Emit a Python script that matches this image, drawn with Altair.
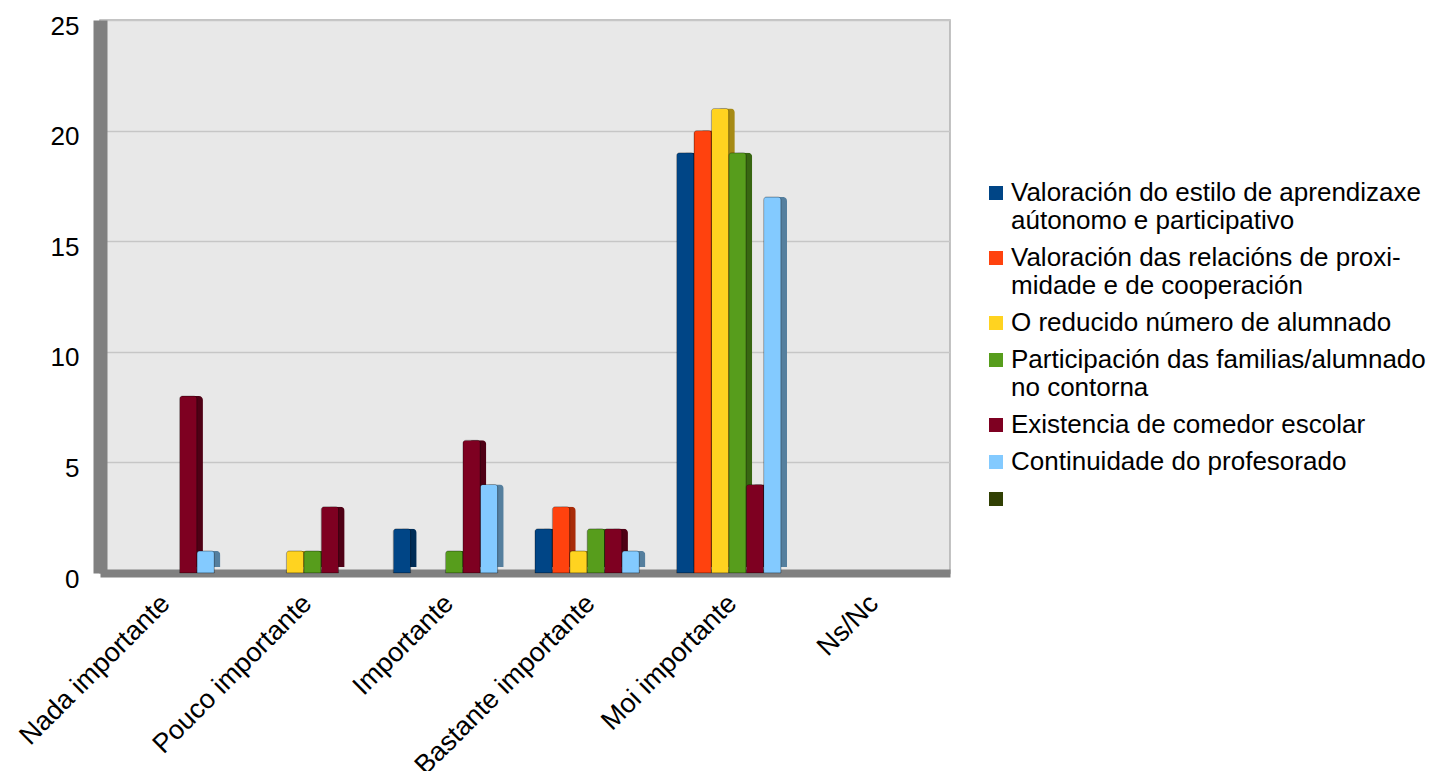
import altair as alt
import pandas as pd

categories = ["Nada importante", "Pouco importante", "Importante",
              "Bastante importante", "Moi importante", "Ns/Nc"]

series = [
    "Valoración do estilo de aprendizaxe|aútonomo e participativo",
    "Valoración das relacións de proxi-|midade e de cooperación",
    "O reducido número de alumnado",
    "Participación das familias/alumnado|no contorna",
    "Existencia de comedor escolar",
    "Continuidade do profesorado",
    " ",
]

colors = ["#004586", "#ff420e", "#ffd320", "#579d1c", "#7e0021", "#83caff", "#314004"]
side_colors = ["#002d57", "#a82b09", "#a68a15", "#386612", "#4f0015", "#557f9e", "#1f2903"]

v_estilo = [0, 0, 2, 2, 19, 0]
v_relacions = [0, 0, 0, 3, 20, 0]
v_reducido = [0, 1, 0, 1, 21, 0]
v_familias = [0, 1, 1, 2, 19, 0]
v_comedor = [8, 3, 6, 2, 4, 0]
v_continuidade = [1, 0, 4, 1, 17, 0]
v_extra = [0, 0, 0, 0, 0, 0]

all_values = [v_estilo, v_relacions, v_reducido, v_familias, v_comedor, v_continuidade, v_extra]

rows = []
for s, sc, vals in zip(series, side_colors, all_values):
    for c, v in zip(categories, vals):
        rows.append({"categoria": c, "serie": s, "valor": v, "lado": sc})
df = pd.DataFrame(rows)

W = 850
PAD_IN, PAD_OUT = 0.14, 0.07
band = W / (len(categories) - PAD_IN + 2 * PAD_OUT) * (1 - PAD_IN)
DEPTH = 6

x_enc = alt.X("categoria:N", sort=categories, title=None,
              scale=alt.Scale(domain=categories, paddingInner=PAD_IN, paddingOuter=PAD_OUT),
              axis=alt.Axis(labelAngle=-45, labelFontSize=27, labelColor="#000000",
                            labelFont="Liberation Sans", ticks=False, labelPadding=26,
                            labelOffset=-5, labelLimit=400,
                            domainColor="#808080", domainWidth=8, labelAlign="right",
                            labelBaseline="middle"))
y_enc = alt.Y("valor:Q", title=None,
              scale=alt.Scale(domain=[0, 25], nice=False),
              axis=alt.Axis(values=[0, 5, 10, 15, 20, 25], ticks=False, labelFontSize=26,
                            labelColor="#000000", labelFont="Liberation Sans", labelPadding=21,
                            labelOffset=6,
                            domainColor="#808080", domainWidth=14, gridColor="#c6c6c6",
                            gridWidth=1.5))

base = alt.Chart(df).transform_filter(alt.datum.valor > 0)

depth = base.mark_bar(
    cornerRadiusTopLeft=4, cornerRadiusTopRight=4, yOffset=-DEPTH
).encode(
    x=x_enc,
    xOffset=alt.XOffset("serie:N", sort=series,
                        scale=alt.Scale(domain=series, range=[DEPTH, band + DEPTH],
                                        paddingInner=0, paddingOuter=0)),
    y=y_enc,
    color=alt.Color("lado:N", scale=None, legend=None),
)

front = base.mark_bar(
    cornerRadiusTopLeft=3, cornerRadiusTopRight=3, strokeWidth=1, strokeOpacity=0.25, stroke="#000000"
).encode(
    x=x_enc,
    xOffset=alt.XOffset("serie:N", sort=series,
                        scale=alt.Scale(domain=series, range=[0, band],
                                        paddingInner=0, paddingOuter=0)),
    y=y_enc,
    color=alt.Color("serie:N", sort=series,
                    scale=alt.Scale(domain=series, range=colors),
                    legend=alt.Legend(title=None, orient="none", legendX=883, legendY=160,
                                      symbolType="square", symbolSize=196, symbolStrokeWidth=0,
                                      labelFontSize=26, labelFont="Liberation Sans",
                                      labelColor="#000000", labelLimit=700, labelOffset=2,
                                      rowPadding=11,
                                      labelExpr="split(datum.label, '|')")),
)

chart = alt.layer(depth, front).resolve_scale(color="independent", xOffset="independent").properties(
    width=W, height=553,
    autosize=alt.AutoSizeParams(type="none"),
    padding={"left": 92, "top": 12, "right": 485, "bottom": 198},
).configure(
    background="#ffffff"
).configure_view(
    fill="#e8e8e8", stroke="#b0b0b0", strokeWidth=1.5
)

chart.save("out.html", embed_options={"renderer": "svg", "actions": False})
